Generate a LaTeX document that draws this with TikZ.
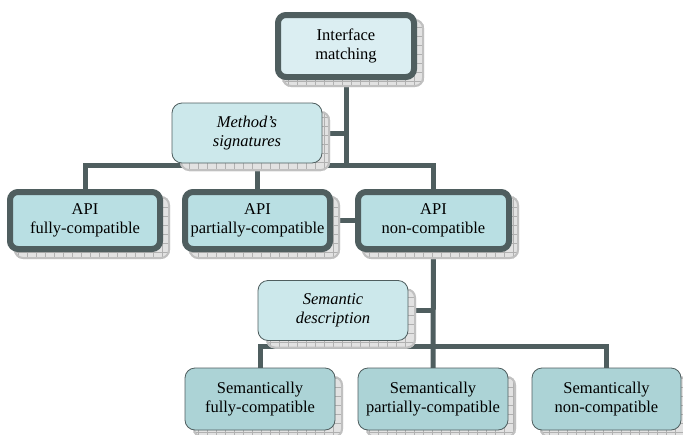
\documentclass[tikz,border=0pt]{standalone}
\usepackage{fontspec}
\setmainfont{Liberation Serif}
\usetikzlibrary{calc}
\definecolor{edgecol}{RGB}{79,94,95}
\definecolor{topfill}{RGB}{219,238,242}
\definecolor{apifill}{RGB}{185,223,227}
\definecolor{notefill}{RGB}{204,232,235}
\definecolor{botfill}{RGB}{172,211,214}
\definecolor{shadowfill}{RGB}{226,226,226}
\definecolor{shadowgrid}{RGB}{176,176,176}
\definecolor{shadowrim}{RGB}{192,192,192}
\pgfdeclarelayer{background}
\pgfdeclarelayer{shadowlayer}
\pgfsetlayers{background,shadowlayer,main}
\newcommand\boxshadow[3]{%
  \begin{scope}
    \fill[shadowfill, rounded corners=9pt] ([shift={(#2,#2)}]#1.north west) rectangle ([shift={(#3,#3)}]#1.south east);
    \clip[rounded corners=9pt] ([shift={(#2,#2)}]#1.north west) rectangle ([shift={(#3,#3)}]#1.south east);
    \draw[shadowgrid, line width=0.4pt, step=9pt] ([shift={(#2,#2)}]#1.north west) grid ([shift={(#3,#3)}]#1.south east);
    \draw[shadowrim, line width=4pt, rounded corners=9pt] ([shift={(#2,#2)}]#1.north west) rectangle ([shift={(#3,#3)}]#1.south east);
  \end{scope}}
\tikzset{
  txt/.style={align=center, font=\fontsize{16.5}{18.5}\selectfont, text=black, inner sep=0pt, outer sep=0pt},
  thickbox/.style={txt, draw=edgecol, line width=6pt, rounded corners=8pt},
  thinbox/.style={txt, draw=edgecol, line width=0.8pt, rounded corners=10pt},
  topbox/.style={thickbox, fill=topfill, minimum width=136pt, minimum height=62pt},
  apibox/.style={thickbox, fill=apifill, minimum height=57pt},
  notebox/.style={thinbox, fill=notefill, minimum width=150pt, minimum height=60pt, font=\fontsize{16.5}{18.5}\selectfont\itshape},
  botbox/.style={thinbox, fill=botfill, minimum width=150pt, minimum height=62pt},
  conn/.style={draw=edgecol, line width=5pt}
}
\begin{document}
\begin{tikzpicture}[x=1pt, y=-1pt]
\useasboundingbox (0,0) rectangle (683,434);
\node[topbox] (top) at (346,46) {Interface\\matching};
\node[notebox] (method) at (247,133) {Method’s\\signatures};
\node[apibox, minimum width=150pt] (api1) at (85,220.5) {API\\fully-compatible};
\node[apibox, minimum width=145pt] (api2) at (257.5,220.5) {API\\partially-compatible};
\node[apibox, minimum width=151pt] (api3) at (433.5,220.5) {API\\non-compatible};
\node[notebox] (sem) at (333,310.5) {Semantic\\description};
\node[botbox] (b1) at (260,399) {Semantically\\fully-compatible};
\node[botbox] (b2) at (433,399) {Semantically\\partially-compatible};
\node[botbox, minimum width=149pt] (b3) at (606.5,399) {Semantically\\non-compatible};
\coordinate (j1) at (346,165);
\coordinate (j2) at (433,346);
\begin{pgfonlayer}{background}
  \draw[conn] (top.south) -- (j1);
  \draw[conn] (method.east) -- (method.east -| j1);
  \draw[conn] (api1.north) -- (api1.north |- j1) -| (api3.north);
  \draw[conn] (api2.north) -- (api2.north |- j1);
  \draw[conn] (api2.east) -- (api3.west);
  \draw[conn] (api3.south) -- (b2.north);
  \draw[conn] (sem.east) -- (sem.east -| api3.south);
  \draw[conn] (b1.north) -- (b1.north |- j2) -| (b3.north);
\end{pgfonlayer}
\begin{pgfonlayer}{shadowlayer}
  \boxshadow{top}{4}{10}
  \boxshadow{api1}{4}{10}
  \boxshadow{api2}{4}{10}
  \boxshadow{api3}{4}{10}
  \boxshadow{method}{8}{8}
  \boxshadow{sem}{8}{8}
  \boxshadow{b1}{8}{8}
  \boxshadow{b2}{8}{8}
  \boxshadow{b3}{8}{8}
\end{pgfonlayer}
\end{tikzpicture}
\end{document}
